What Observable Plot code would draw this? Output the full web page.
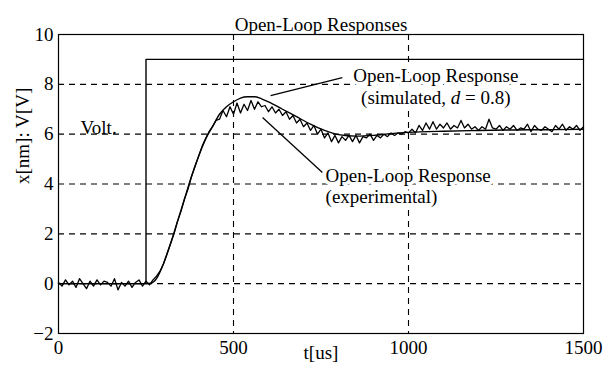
<!DOCTYPE html>
<html>
<head>
<meta charset="utf-8">
<script src="https://cdn.jsdelivr.net/npm/d3@7"></script>
<script src="https://cdn.jsdelivr.net/npm/@observablehq/plot@0.6"></script>
<style>
  html, body { margin: 0; padding: 0; background: #fff; }
  #chart svg { display: block; font-family: "Liberation Serif", serif; }
  #chart svg text { font-family: "Liberation Serif", serif; }
</style>
</head>
<body>
<div id="chart"></div>
<script>
// ---- data ----
const titleText = "Open-Loop Responses";
const xLabel = "t[us]";
const yLabel = "x[nm]: V[V]";
const xTicks = [0, 500, 1000, 1500];
const yTicks = [-2, 0, 2, 4, 6, 8, 10];
const xGrid = [500, 1000];
const yGrid = [0, 2, 4, 6, 8];

// applied voltage step
const voltT = [0, 250, 250, 1500];
const voltV = [0, 0, 9, 9];

// simulated open-loop response (d = 0.8)
const simT = [0, 250, 265, 280, 300, 320, 340, 360, 380, 400, 420, 440, 460, 480, 500, 520, 540, 560, 580, 600, 640, 680, 720, 760, 800, 850, 900, 950, 1000, 1100, 1200, 1300, 1400, 1500];
const simV = [0, 0, 0.02, 0.2, 0.8, 1.6, 2.5, 3.4, 4.3, 5.1, 5.8, 6.3, 6.8, 7.1, 7.3, 7.45, 7.5, 7.5, 7.42, 7.3, 7.0, 6.7, 6.4, 6.15, 5.98, 5.92, 5.95, 6.02, 6.07, 6.12, 6.15, 6.17, 6.18, 6.2];

// experimental open-loop response, sampled every 10 us from t = 0
const expStep = 10;
const expV = [
  0.05, -0.1, 0.15, -0.05, 0.1, -0.15, 0.2, 0.0, -0.2, 0.1,
  -0.1, 0.15, -0.05, 0.1, 0.05, -0.1, 0.2, -0.25, 0.05, -0.1,
  0.1, -0.15, 0.05, 0.15, -0.1, 0.1, -0.05, 0.15, 0.3, 0.5,
  0.8, 1.2, 1.6, 2.0, 2.5, 2.9, 3.4, 3.8, 4.3, 4.7,
  5.1, 5.5, 5.8, 6.1, 6.3, 6.55, 6.6, 6.95, 6.7, 7.1,
  6.8, 7.25, 6.85, 7.2, 6.95, 7.35, 7.0, 7.3, 7.1, 7.15,
  6.9, 7.1, 6.85, 7.0, 6.75, 6.9, 6.6, 6.75, 6.45, 6.6,
  6.3, 6.45, 6.15, 6.35, 6.0, 6.2, 5.85, 6.05, 5.7, 5.95,
  5.65, 5.9, 5.75, 5.95, 5.7, 5.95, 5.65, 5.9, 5.85, 6.0,
  5.75, 5.95, 5.85, 6.0, 5.9, 6.05, 5.95, 6.05, 6.0, 6.1,
  6.05, 6.2, 6.05, 6.35, 6.15, 6.45, 6.2, 6.5, 6.2, 6.4,
  6.25, 6.45, 6.2, 6.35, 6.25, 6.55, 6.25, 6.4, 6.2, 6.3,
  6.15, 6.3, 6.2, 6.6, 6.25, 6.2, 6.35, 6.15, 6.3, 6.2,
  6.35, 6.15, 6.25, 6.2, 6.4, 6.1, 6.35, 6.2, 6.15, 6.3,
  6.2, 6.1, 6.35, 6.2, 6.4, 6.15, 6.3, 6.2, 6.35, 6.15,
  6.3
];

// annotations (data coordinates)
const noteVolt = {t: 63, v: 6.27, text: "Volt."};
const noteSimLines = ["Open-Loop Response", "(simulated, d = 0.8)"];
const noteSimPos = {t: 1078, v: [8.35, 7.47]};
const noteExpLines = ["Open-Loop Response", "(experimental)"];
const noteExpPos = {t: 763, v: [4.34, 3.5]};
const pointerSim = {t1: 606, v1: 7.55, t2: 811, v2: 8.27};
const pointerExp = {t1: 583, v1: 6.67, t2: 754, v2: 4.46};

// ---- build tables ----
const volt = voltT.map((t, i) => ({t, v: voltV[i]}));
const sim = simT.map((t, i) => ({t, v: simV[i]}));
const exp = expV.map((v, i) => ({t: i * expStep, v}));
const simNotes = noteSimLines.map((s, i) => ({t: noteSimPos.t, v: noteSimPos.v[i], s}));
const expNotes = noteExpLines.map((s, i) => ({t: noteExpPos.t, v: noteExpPos.v[i], s}));
const pointers = [pointerSim, pointerExp];

const font = "Liberation Serif";
const fs = 19;
const fmt = d => d < 0 ? "\u2212" + Math.abs(d) : String(d);

const plot = Plot.plot({
  width: 603,
  height: 371,
  marginLeft: 58,
  marginRight: 20,
  marginTop: 34,
  marginBottom: 38,
  style: {fontFamily: font, fontSize: fs + "px", background: "#fff", color: "#000"},
  x: {domain: [0, 1500]},
  y: {domain: [-2, 10]},
  marks: [
    Plot.gridX(xGrid, {stroke: "#000", strokeOpacity: 1, strokeWidth: 1.1, strokeDasharray: "6,5"}),
    Plot.gridY(yGrid, {stroke: "#000", strokeOpacity: 1, strokeWidth: 1.1, strokeDasharray: "6,5"}),
    Plot.axisX(xTicks, {tickSize: 0, tickPadding: 7, label: null, fontSize: fs, fontFamily: font, tickFormat: fmt}),
    Plot.axisY(yTicks, {tickSize: 0, tickPadding: 5, label: null, fontSize: fs, fontFamily: font, tickFormat: fmt}),
    Plot.line(volt, {x: "t", y: "v", stroke: "#000", strokeWidth: 1.4}),
    Plot.line(exp, {x: "t", y: "v", stroke: "#000", strokeWidth: 1.3, strokeLinejoin: "round"}),
    Plot.line(sim, {x: "t", y: "v", stroke: "#000", strokeWidth: 1.4, curve: "monotone-x"}),
    Plot.link(pointers, {x1: "t1", y1: "v1", x2: "t2", y2: "v2", stroke: "#000", strokeWidth: 1.3}),
    Plot.text([noteVolt], {x: "t", y: "v", text: "text", textAnchor: "start", fontSize: fs, fontFamily: font, fill: "#000"}),
    Plot.text(simNotes, {x: "t", y: "v", text: "s", textAnchor: "middle", fontSize: fs, fontFamily: font, fill: "#000", stroke: "#fff", strokeWidth: 7, className: "simnote"}),
    Plot.text(expNotes, {x: "t", y: "v", text: "s", textAnchor: "start", fontSize: fs, fontFamily: font, fill: "#000", stroke: "#fff", strokeWidth: 7}),
    Plot.frame({stroke: "#000", strokeWidth: 1.2}),
    Plot.text([titleText], {frameAnchor: "top", dy: -17, fontSize: fs, fontFamily: font, fill: "#000"}),
    Plot.text([xLabel], {frameAnchor: "bottom", dy: 25, fontSize: fs, fontFamily: font, fill: "#000"}),
    Plot.text([yLabel], {frameAnchor: "left", dx: -36, rotate: -90, fontSize: fs, fontFamily: font, fill: "#000"})
  ]
});

// italic "d" in the simulated note
d3.select(plot).selectAll("g.simnote text").each(function() {
  const t = this.textContent;
  if (t.includes("d = ")) {
    const sel = d3.select(this);
    sel.text(null);
    const parts = t.split("d = ");
    sel.append("tspan").text(parts[0]);
    sel.append("tspan").attr("font-style", "italic").text("d");
    sel.append("tspan").text(" = " + parts[1]);
  }
});

document.getElementById("chart").appendChild(plot);
</script>
</body>
</html>
